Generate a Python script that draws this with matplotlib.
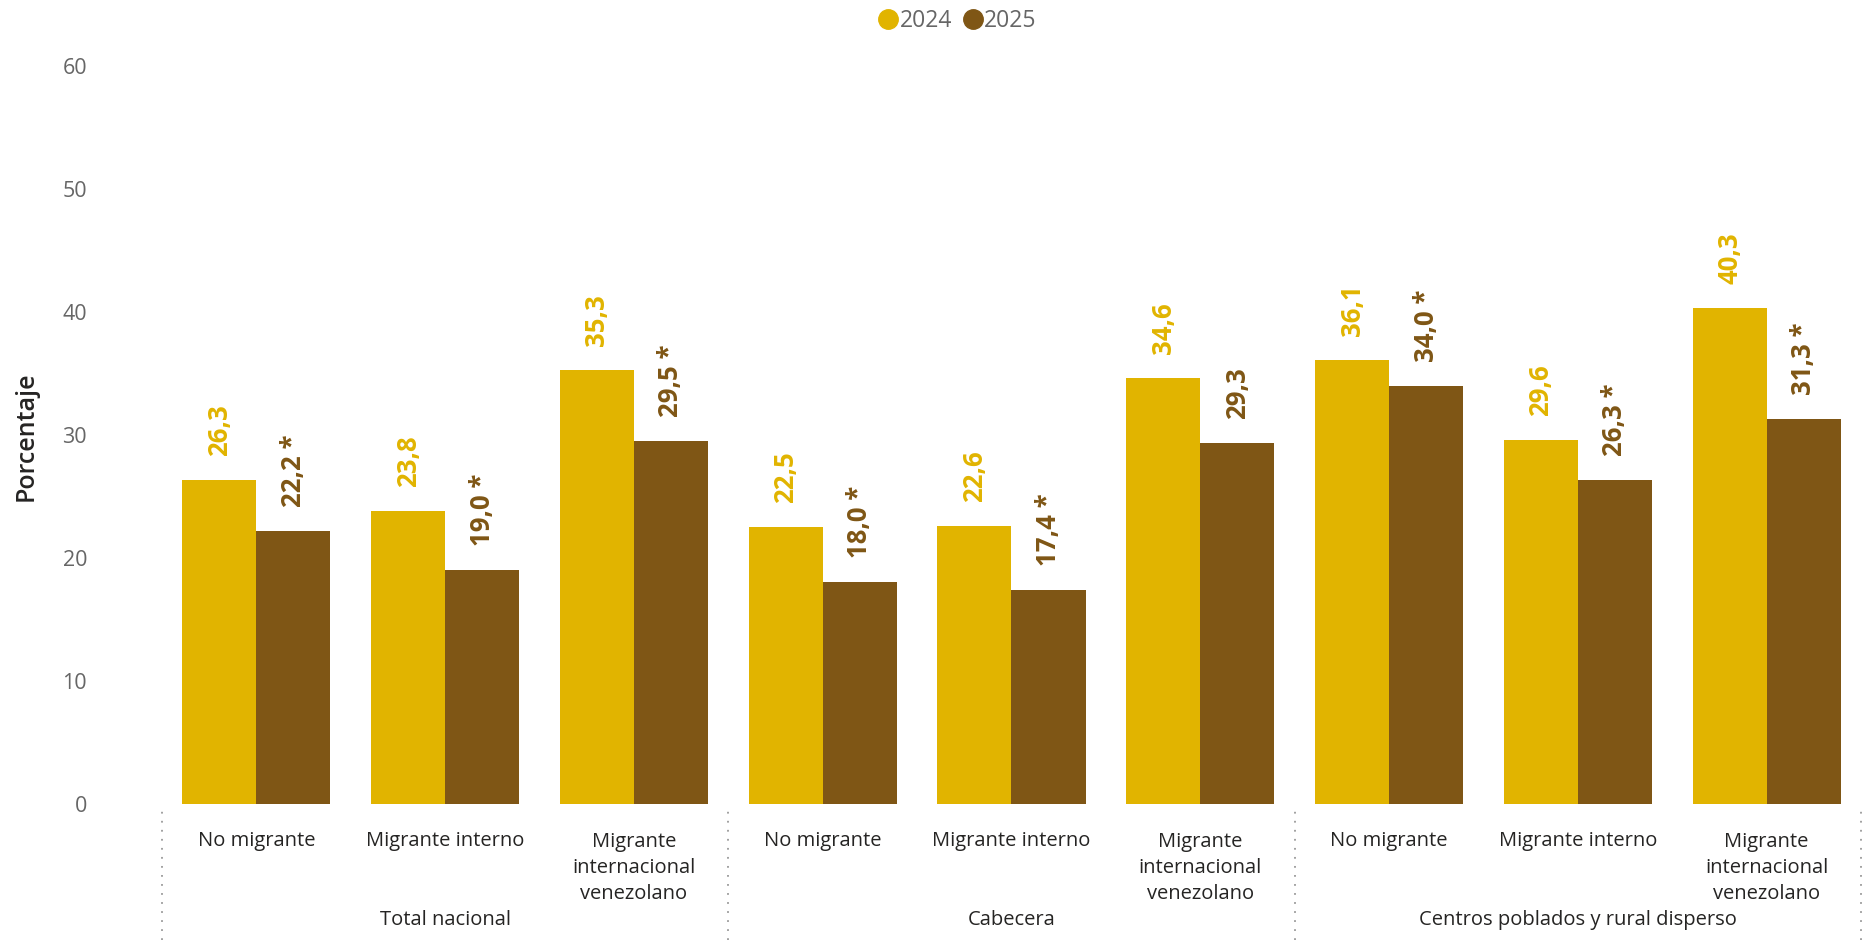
import matplotlib
matplotlib.use("Agg")
import matplotlib.pyplot as plt
from matplotlib.lines import Line2D
import numpy as np

plt.rcParams['font.family'] = ['Open Sans', 'DejaVu Sans']

categories = ["No migrante", "Migrante interno", "Migrante\ninternacional\nvenezolano"] * 3
groups = ["Total nacional", "Cabecera", "Centros poblados y rural disperso"]
series_names = ["2024", "2025"]
values_2024 = [26.3, 23.8, 35.3, 22.5, 22.6, 34.6, 36.1, 29.6, 40.3]
values_2025 = [22.2, 19.0, 29.5, 18.0, 17.4, 29.3, 34.0, 26.3, 31.3]
sig_2025 = [True, True, True, True, True, False, True, True, True]
yticks = [0, 10, 20, 30, 40, 50, 60]

c24 = "#E1B400"
c25 = "#7F5615"

W, H = 1867, 940
fig = plt.figure(figsize=(W / 100, H / 100), dpi=100)
ax = fig.add_axes([162 / W, (H - 804) / H, (1861 - 162) / W, (804 - 65.5) / H])

x = np.arange(len(categories))
bw = 0.392
ax.bar(x - bw / 2, values_2024, bw, color=c24, linewidth=0)
ax.bar(x + bw / 2, values_2025, bw, color=c25, linewidth=0)

def fmt(v):
    return f"{v:.1f}".replace(".", ",")

for i in range(len(x)):
    ax.annotate(fmt(values_2024[i]), xy=(x[i] - bw / 2, values_2024[i]),
                xytext=(0, 24 * 0.72), textcoords="offset points",
                rotation=90, ha="center", va="bottom", color=c24,
                fontsize=18.5, fontweight="bold")
    lbl = fmt(values_2025[i]) + (" *" if sig_2025[i] else "")
    ax.annotate(lbl, xy=(x[i] + bw / 2, values_2025[i]),
                xytext=(0, 24 * 0.72), textcoords="offset points",
                rotation=90, ha="center", va="bottom", color=c25,
                fontsize=18.5, fontweight="bold")

ax.set_xlim(-0.5, len(x) - 0.5)
ax.set_ylim(0, 60)
ax.set_yticks(yticks)
ax.set_yticklabels([str(t) for t in yticks], color="#666666", fontsize=15.5)
ax.tick_params(axis="y", length=0, pad=54)
ax.set_xticks([])
for s in ax.spines.values():
    s.set_visible(False)

fig.text(26 / W, 1 - 436 / H, "Porcentaje", rotation=90, ha="center", va="center",
         fontsize=18, fontweight="semibold", color="#252423")

# category labels
for i, cat in enumerate(categories):
    n = cat.count("\n") + 1
    yc = 841 if n == 1 else 868
    ax.annotate(cat, xy=(x[i], 0), xycoords="data",
                xytext=(0, -(yc - 804) * 0.72), textcoords="offset points",
                ha="center", va="center", fontsize=14.5, color="#252423",
                linespacing=1.38, annotation_clip=False)

# group labels
for g, name in enumerate(groups):
    xc = 3 * g + 1
    ax.annotate(name, xy=(xc, 0), xycoords="data",
                xytext=(0, -(920 - 804) * 0.72), textcoords="offset points",
                ha="center", va="center", fontsize=14.5, color="#252423",
                annotation_clip=False)

# dotted separators
for xs in [-0.5, 2.5, 5.5, 8.5]:
    xf = ax.transData.transform((xs, 0))[0] / W
    fig.add_artist(Line2D([xf, xf], [0, (H - 810) / H], transform=fig.transFigure,
                          color="#9a9a9a", linestyle=(0, (1, 4)), linewidth=1.3))

# legend
handles = [Line2D([0], [0], marker="o", linestyle="", markersize=14,
                  markerfacecolor=c, markeredgecolor=c) for c in (c24, c25)]
fig.legend(handles, series_names, loc="center", bbox_to_anchor=(958 / W, 1 - 21 / H),
           ncol=2, frameon=False, fontsize=16.5, labelcolor="#666666",
           handletextpad=0.1, columnspacing=0.5, handlelength=0.8)

fig.savefig("out.png", dpi=100)
